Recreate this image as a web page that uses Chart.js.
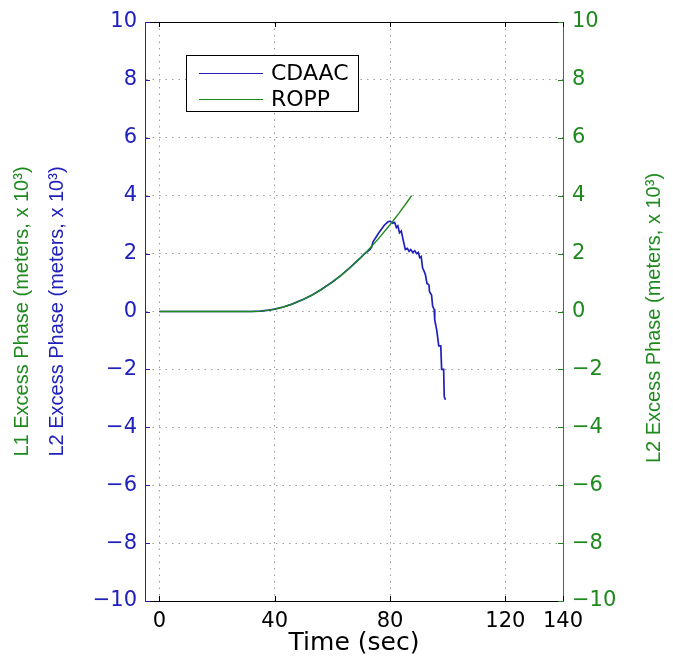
<!DOCTYPE html>
<html><head><meta charset="utf-8">
<script src="https://cdn.jsdelivr.net/npm/chart.js@4.4.1/dist/chart.umd.min.js"></script>
<style>html,body{margin:0;padding:0;background:#fff;}#wrap{width:673px;height:656px;}</style>
</head><body><div id="wrap"><canvas id="c" width="673" height="656"></canvas></div>
<script>
// ---- data ----
const seriesNames = ['CDAAC', 'ROPP'];
const timeRopp = [0,5,10,15,20,25,30,32,35,38,40,43,46,50,53,56,60,63,66,70,73,76,80,83,86,87.5];
const ropp     = [0,0,0,0,0,0,0,0,0.012,0.047,0.083,0.157,0.255,0.421,0.573,0.749,1.019,1.249,1.503,1.877,2.185,2.517,2.995,3.381,3.791,4.0];
const timeCdaac = [0,5,10,15,20,25,30,32,35,38,40,43,46,50,53,56,60,63,66,70,71,72,73,73.6,74.1,76,78,79.3,80,81,81.6,82.2,82.7,83.3,83.9,84.6,85.3,86,86.6,87.2,87.9,88.6,89.2,89.8,90.3,90.8,91.3,91.8,92.3,92.8,93.5,93.7,94.4,94.8,95.3,95.5,96.2,96.9,97.6,97.9,98.6,98.8,99.2];
const cdaac     = [0,0,0,0,0,0,0,0,0.012,0.047,0.083,0.157,0.255,0.421,0.573,0.749,1.019,1.249,1.503,1.877,1.98,2.06,2.14,2.22,2.41,2.7,2.98,3.1,3.12,3.05,3.08,2.9,2.96,2.72,2.78,2.45,2.14,2.18,2.08,2.14,2.04,2.1,2.0,2.04,1.86,1.9,1.5,1.4,1.26,0.97,0.92,0.68,0.57,0.17,0.08,-0.29,-0.64,-1.19,-1.19,-2.0,-2.0,-2.94,-3.05];
const xTicks = [0, 40, 80, 120, 140];
const yTicks = [-10, -8, -6, -4, -2, 0, 2, 4, 6, 8, 10];
const xTitle = 'Time (sec)';
const yTitleL1 = 'L1 Excess Phase (meters, x 10³)';
const yTitleL2 = 'L2 Excess Phase (meters, x 10³)';
const yTitleRight = 'L2 Excess Phase (meters, x 10³)';

const BLUE = '#2020bb';
const GREEN = '#1e8a1e';
const GRID = '#9a9a9a';
const TICKFONT = {family: 'DejaVu Sans', size: 21};
const fmt = v => v < 0 ? '\u2212' + Math.abs(v) : String(v);

const framePlugin = {
  id: 'frame',
  afterDraw(chart) {
    const {ctx, chartArea: a, scales} = chart;
    ctx.save();
    ctx.lineWidth = 1;
    // top border
    ctx.strokeStyle = '#000';
    ctx.beginPath(); ctx.moveTo(a.left, a.top + 0.5); ctx.lineTo(a.right, a.top + 0.5); ctx.stroke();
    // inward tick marks
    const tl = 5;
    scales.y.ticks.forEach(t => {
      const py = Math.round(scales.y.getPixelForValue(t.value)) + 0.5;
      ctx.strokeStyle = BLUE;
      ctx.beginPath(); ctx.moveTo(a.left, py); ctx.lineTo(a.left + tl, py); ctx.stroke();
      ctx.strokeStyle = GREEN;
      ctx.beginPath(); ctx.moveTo(a.right, py); ctx.lineTo(a.right - tl, py); ctx.stroke();
    });
    ctx.strokeStyle = '#000';
    scales.x.ticks.forEach(t => {
      const px = Math.round(scales.x.getPixelForValue(t.value)) + 0.5;
      ctx.beginPath(); ctx.moveTo(px, a.bottom); ctx.lineTo(px, a.bottom - tl); ctx.stroke();
      ctx.beginPath(); ctx.moveTo(px, a.top); ctx.lineTo(px, a.top + tl); ctx.stroke();
    });
    // legend box
    const lx = 186, ly = 55, lw = 172, lh = 56;
    ctx.fillStyle = '#fff';
    ctx.fillRect(lx, ly, lw, lh);
    ctx.strokeStyle = '#000';
    ctx.strokeRect(lx + 0.5, ly + 0.5, lw, lh);
    ctx.font = '22px "DejaVu Sans"';
    ctx.textBaseline = 'middle';
    ctx.textAlign = 'left';
    chart.data.datasets.forEach((ds, i) => {
      const yy = ly + 18 + i * 26;
      ctx.strokeStyle = ds.borderColor;
      ctx.lineWidth = 1;
      ctx.beginPath(); ctx.moveTo(lx + 13, yy + 0.5); ctx.lineTo(lx + 77, yy + 0.5); ctx.stroke();
      ctx.fillStyle = '#000';
      ctx.fillText(ds.label, lx + 85, yy + 1);
    });
    // right axis title (reads bottom to top)
    ctx.translate(654, 318);
    ctx.rotate(-Math.PI / 2);
    ctx.font = '20px "Liberation Sans"';
    ctx.fillStyle = GREEN;
    ctx.textAlign = 'center';
    ctx.fillText(yTitleRight, 0, 0);
    ctx.restore();
  }
};

new Chart(document.getElementById('c'), {
  type: 'line',
  data: {
    datasets: [
      {label: seriesNames[0], data: timeCdaac.map((t, i) => ({x: t, y: cdaac[i]})),
       borderColor: BLUE, backgroundColor: BLUE, borderWidth: 1.7, pointRadius: 0, tension: 0, fill: false, order: 1, yAxisID: 'y'},
      {label: seriesNames[1], data: timeRopp.map((t, i) => ({x: t, y: ropp[i]})),
       borderColor: GREEN, backgroundColor: GREEN, borderWidth: 1.4, pointRadius: 0, tension: 0, fill: false, order: 0, yAxisID: 'y'}
    ]
  },
  options: {
    responsive: false,
    animation: false,
    devicePixelRatio: 1,
    layout: {padding: {top: 22, left: 0, right: 0, bottom: 0}},
    plugins: {legend: {display: false}, tooltip: {enabled: false}},
    scales: {
      x: {
        type: 'linear', position: 'bottom', min: -5, max: 140,
        afterBuildTicks: s => { s.ticks = xTicks.map(v => ({value: v})); },
        afterFit: s => { s.height = 55; },
        ticks: {color: '#000', font: TICKFONT, padding: 8, maxRotation: 0, autoSkip: false, callback: v => fmt(v)},
        grid: {drawTicks: false, lineWidth: 1, color: c => (c.tick && (c.tick.value === 140)) ? 'rgba(0,0,0,0)' : GRID},
        border: {display: true, color: '#000', width: 1, dash: [1.5, 5]},
        title: {display: true, text: xTitle, color: '#000', font: {family: 'DejaVu Sans', size: 25, lineHeight: 1}, padding: {top: 0, bottom: 0}}
      },
      yL1: {
        type: 'linear', position: 'left', min: -10, max: 10, weight: 10,
        afterFit: s => { s.width = 36; },
        ticks: {display: false},
        grid: {display: false, drawTicks: false},
        border: {display: false},
        title: {display: true, text: yTitleL1, color: GREEN, font: {family: 'Liberation Sans', size: 20}, padding: {top: 10, bottom: 0}}
      },
      y: {
        type: 'linear', position: 'left', min: -10, max: 10, weight: 1,
        afterBuildTicks: s => { s.ticks = yTicks.map(v => ({value: v})); },
        afterFit: s => { s.width = 109; },
        ticks: {color: BLUE, font: TICKFONT, padding: 8, callback: v => fmt(v)},
        grid: {drawTicks: false, lineWidth: 1, color: c => (c.tick && Math.abs(c.tick.value) === 10) ? 'rgba(0,0,0,0)' : GRID},
        border: {display: true, color: BLUE, width: 1, dash: [1.5, 5]},
        title: {display: true, text: yTitleL2, color: BLUE, font: {family: 'Liberation Sans', size: 20}, padding: {top: 9, bottom: 0}}
      },
      y2: {
        type: 'linear', position: 'right', min: -10, max: 10,
        afterBuildTicks: s => { s.ticks = yTicks.map(v => ({value: v})); },
        afterFit: s => { s.width = 110; },
        ticks: {color: GREEN, font: TICKFONT, padding: 9, callback: v => fmt(v)},
        grid: {display: false, drawTicks: false},
        border: {display: true, color: GREEN, width: 1}
      }
    }
  },
  plugins: [framePlugin]
});
</script></body></html>
